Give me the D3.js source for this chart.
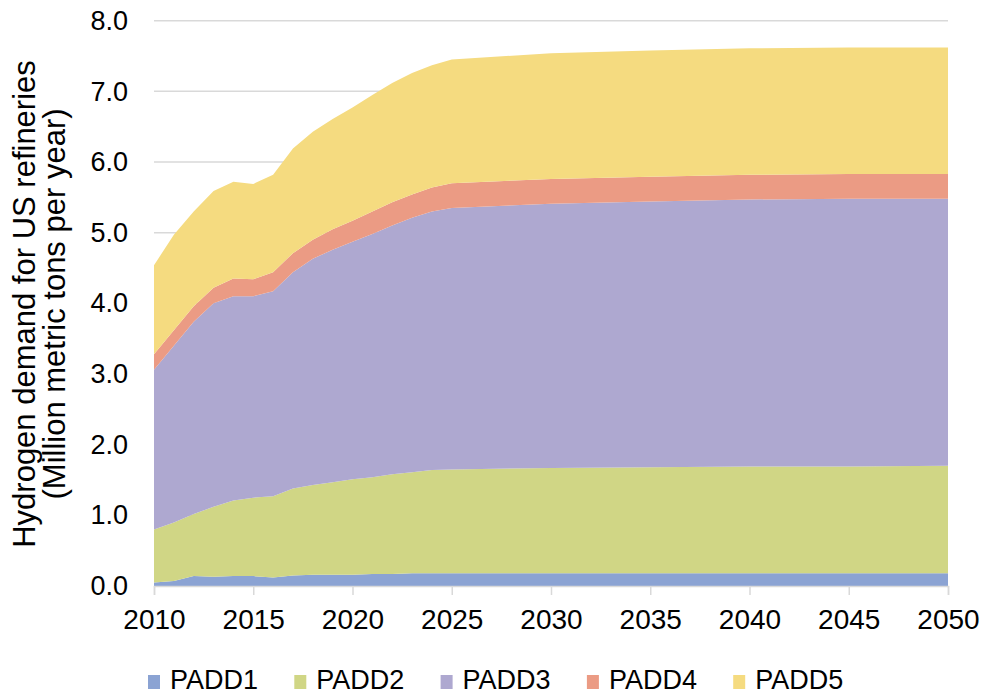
<!DOCTYPE html>
<html>
<head>
<meta charset="utf-8">
<script src="https://cdn.jsdelivr.net/npm/d3@7"></script>
<style>
  html, body { margin: 0; padding: 0; background: #fff; }
  svg { display: block; }
  text { font-family: "Liberation Sans", Arial, sans-serif; fill: #000; }
</style>
</head>
<body>
<svg id="chart" width="982" height="696"></svg>
<script>
const years = [2010, 2011, 2012, 2013, 2014, 2015, 2016, 2017, 2018, 2019, 2020, 2021, 2022, 2023, 2024, 2025, 2030, 2035, 2040, 2045, 2050];
const padd1 = [0.05, 0.07, 0.14, 0.13, 0.14, 0.14, 0.12, 0.15, 0.16, 0.16, 0.16, 0.17, 0.17, 0.18, 0.18, 0.18, 0.18, 0.18, 0.18, 0.18, 0.18];
const padd2 = [0.75, 0.83, 0.88, 0.99, 1.07, 1.11, 1.15, 1.23, 1.27, 1.31, 1.35, 1.37, 1.41, 1.43, 1.46, 1.47, 1.49, 1.50, 1.51, 1.51, 1.52];
const padd3 = [2.26, 2.50, 2.72, 2.88, 2.89, 2.85, 2.90, 3.06, 3.20, 3.29, 3.36, 3.44, 3.52, 3.60, 3.66, 3.70, 3.74, 3.76, 3.78, 3.79, 3.78];
const padd4 = [0.22, 0.22, 0.22, 0.22, 0.25, 0.24, 0.27, 0.27, 0.27, 0.29, 0.30, 0.32, 0.33, 0.33, 0.34, 0.35, 0.35, 0.35, 0.35, 0.35, 0.35];
const padd5 = [1.26, 1.35, 1.34, 1.37, 1.37, 1.35, 1.38, 1.48, 1.53, 1.56, 1.60, 1.65, 1.69, 1.72, 1.73, 1.75, 1.78, 1.79, 1.79, 1.79, 1.79];
const seriesNames = ["PADD1", "PADD2", "PADD3", "PADD4", "PADD5"];
const seriesColors = ["#8ba3d3", "#d0d685", "#aea8d0", "#eb9b84", "#f5db80"];
const xTicks = [2010, 2015, 2020, 2025, 2030, 2035, 2040, 2045, 2050];
const yTicks = [0, 1, 2, 3, 4, 5, 6, 7, 8];
const yTitle = ["Hydrogen demand for US refineries", "(Million metric tons per year)"];

const seriesValues = [padd1, padd2, padd3, padd4, padd5];
const table = years.map((yr, i) => {
  const row = { year: yr };
  seriesNames.forEach((n, k) => row[n] = seriesValues[k][i]);
  return row;
});

const svg = d3.select("#chart");
const plotLeft = 154, plotRight = 948, plotTop = 20.7, plotBottom = 586;

const x = d3.scaleLinear().domain([2010, 2050]).range([plotLeft, plotRight]);
const y = d3.scaleLinear().domain([0, 8]).range([plotBottom, plotTop]);

// gridlines
svg.append("g").selectAll("line")
  .data(yTicks.filter(d => d > 0))
  .join("line")
  .attr("x1", plotLeft).attr("x2", plotRight)
  .attr("y1", d => y(d)).attr("y2", d => y(d))
  .attr("stroke", "#d9d9d9").attr("stroke-width", 1.5);

// stacked areas
const stack = d3.stack().keys(seriesNames);
const stacked = stack(table);
const area = d3.area()
  .x(d => x(d.data.year))
  .y0(d => y(d[0]))
  .y1(d => y(d[1]));

svg.append("g").selectAll("path")
  .data(stacked)
  .join("path")
  .attr("d", area)
  .attr("fill", (d, i) => seriesColors[i]);

// x axis
const xAxis = d3.axisBottom(x).tickValues(xTicks).tickFormat(d3.format("d")).tickSize(9).tickPadding(14);
const gx = svg.append("g").attr("transform", `translate(0,${plotBottom})`).call(xAxis);
gx.select(".domain").attr("stroke", "#d9d9d9").attr("stroke-width", 1.5);
gx.selectAll(".tick line").attr("stroke", "#d9d9d9").attr("stroke-width", 1.5);
gx.selectAll(".tick text").attr("font-size", 28).attr("font-family", "Liberation Sans, Arial, sans-serif").attr("fill", "#000");

// y axis
const yAxis = d3.axisLeft(y).tickValues(yTicks).tickFormat(d3.format(".1f")).tickSize(0).tickPadding(26);
const gy = svg.append("g").attr("transform", `translate(${plotLeft},0)`).call(yAxis);
gy.select(".domain").remove();
gy.selectAll(".tick text").attr("font-size", 27).attr("font-family", "Liberation Sans, Arial, sans-serif").attr("fill", "#000");

// y title
const yt = svg.append("text")
  .attr("transform", `translate(35,304) rotate(-90)`)
  .attr("text-anchor", "middle")
  .attr("font-size", 31);
yTitle.forEach((t, i) => {
  yt.append("tspan").attr("x", 0).attr("dy", i === 0 ? 0 : 30).text(t);
});

// legend
const legend = svg.append("g").selectAll("g")
  .data(seriesNames)
  .join("g")
  .attr("transform", (d, i) => `translate(${148 + i * 146.3},0)`);
legend.append("rect")
  .attr("x", 0).attr("y", 675).attr("width", 12).attr("height", 14)
  .attr("fill", (d, i) => seriesColors[i]);
legend.append("text")
  .attr("x", 22).attr("y", 689)
  .attr("font-size", 27)
  .text(d => d);
</script>
</body>
</html>
